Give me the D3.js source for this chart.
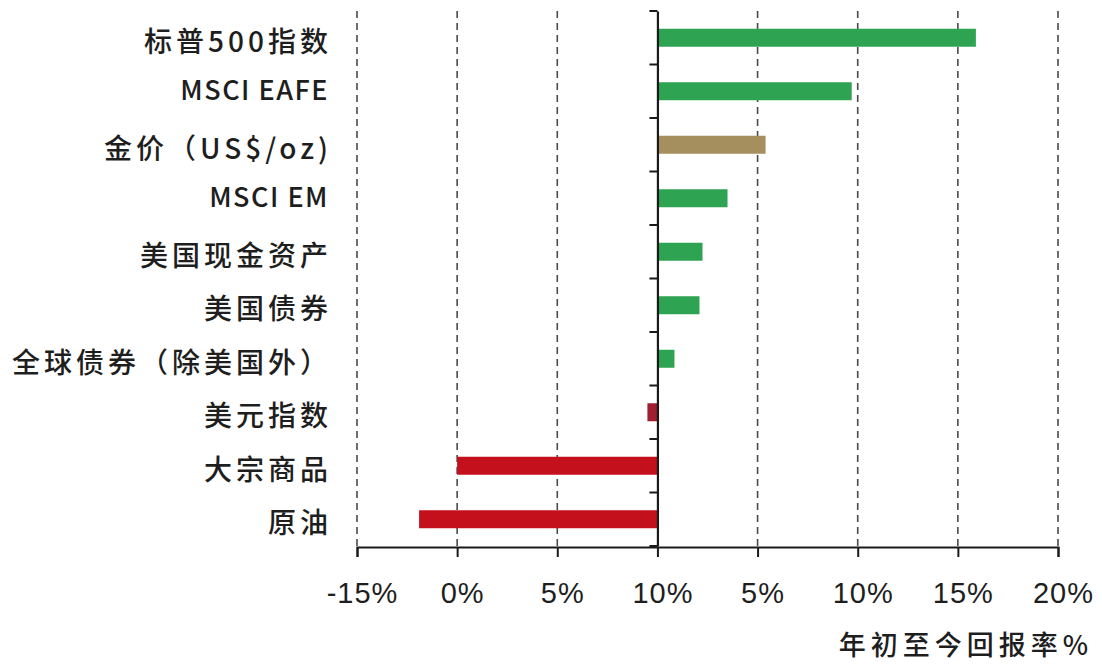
<!DOCTYPE html>
<html><head><meta charset="utf-8">
<script src="https://cdn.jsdelivr.net/npm/d3@7"></script>
<style>
body{margin:0;background:#fff;}
svg text{font-family:"Noto Sans CJK SC","Noto Sans",sans-serif;fill:#1e1e1e;}
</style></head>
<body><svg id="c" width="1102" height="668"></svg>
<script>
const categories = ["标普500指数","MSCI EAFE","金价（US$/oz)","MSCI EM","美国现金资产","美国债券","全球债券（除美国外）","美元指数","大宗商品","原油"];
const values = [15.9, 9.7, 5.4, 3.5, 2.25, 2.1, 0.85, -0.5, -10.0, -11.9];
const barColors = ["#2ea352","#2ea352","#a68f5e","#2ea352","#2ea352","#2ea352","#2ea352","#a11d30","#c4101c","#c4101c"];
const tickValues = [-15,-10,-5,0,5,10,15,20];
const tickLabels = ["-15%","0%","5%","10%","5%","10%","15%","20%"];
const axisTitle = "年初至今回报率%";

const svg = d3.select("#c");
const x = d3.scaleLinear().domain([-15,20]).range([357,1058]);
const yb = d3.scaleBand().domain(categories).range([11,546]);
const isLatin = d => /^[A-Z]/.test(d);

// grid
svg.append("g").selectAll("line").data(tickValues.filter(v=>v!==0)).join("line")
  .attr("x1",d=>x(d)).attr("x2",d=>x(d)).attr("y1",11).attr("y2",546)
  .attr("stroke","#4a4a4a").attr("stroke-width",1.6).attr("stroke-dasharray","7,5");

// bars
svg.append("g").selectAll("rect").data(categories).join("rect")
  .attr("x",(d,i)=>x(Math.min(0,values[i])))
  .attr("width",(d,i)=>Math.abs(x(values[i])-x(0)))
  .attr("y",d=>yb(d)+yb.bandwidth()/2-9)
  .attr("height",18)
  .attr("fill",(d,i)=>barColors[i]);

// x axis
const xa = svg.append("g").attr("transform","translate(0,547)")
  .call(d3.axisBottom(x).tickValues(tickValues).tickSize(10).tickPadding(0)
    .tickFormat((d,i)=>tickLabels[i]));
xa.select(".domain").attr("stroke","#1a1a1a").attr("stroke-width",2);
xa.selectAll(".tick line").attr("stroke","#1a1a1a").attr("stroke-width",2);
xa.selectAll("text").attr("y",56).attr("dy",null).attr("font-size",29).attr("dx",5)
  .style("letter-spacing","1px")
  .style("font-family","'Liberation Sans',Arial,sans-serif").attr("fill","#2a2a2a");

// y axis at zero
const ya = svg.append("g").attr("transform",`translate(${x(0)},0)`)
  .call(d3.axisLeft(yb).tickValues([]).tickSize(0));
ya.select(".domain").attr("stroke","#1a1a1a").attr("stroke-width",2.2);
ya.selectAll("line.bt").data(d3.range(categories.length+1)).join("line").attr("class","bt")
  .attr("x1",-8).attr("x2",0)
  .attr("y1",i=>11+i*yb.step()).attr("y2",i=>11+i*yb.step())
  .attr("stroke","#1a1a1a").attr("stroke-width",2);

// category labels
svg.append("g").selectAll("text").data(categories).join("text")
  .attr("x",d=>isLatin(d)?329:332)
  .attr("y",d=>yb(d)+yb.bandwidth()/2+(isLatin(d)?-1:4))
  .attr("dy","0.36em").attr("text-anchor","end")
  .attr("font-size",d=>isLatin(d)?27:28)
  .attr("font-weight",500)
  .style("letter-spacing",d=>isLatin(d)?"1.5px":"4px")
  .text(d=>d);

// axis title
svg.append("text").attr("x",1093).attr("y",655).attr("text-anchor","end")
  .attr("font-size",27).attr("font-weight",500).style("letter-spacing","5px").text(axisTitle);
</script></body></html>
